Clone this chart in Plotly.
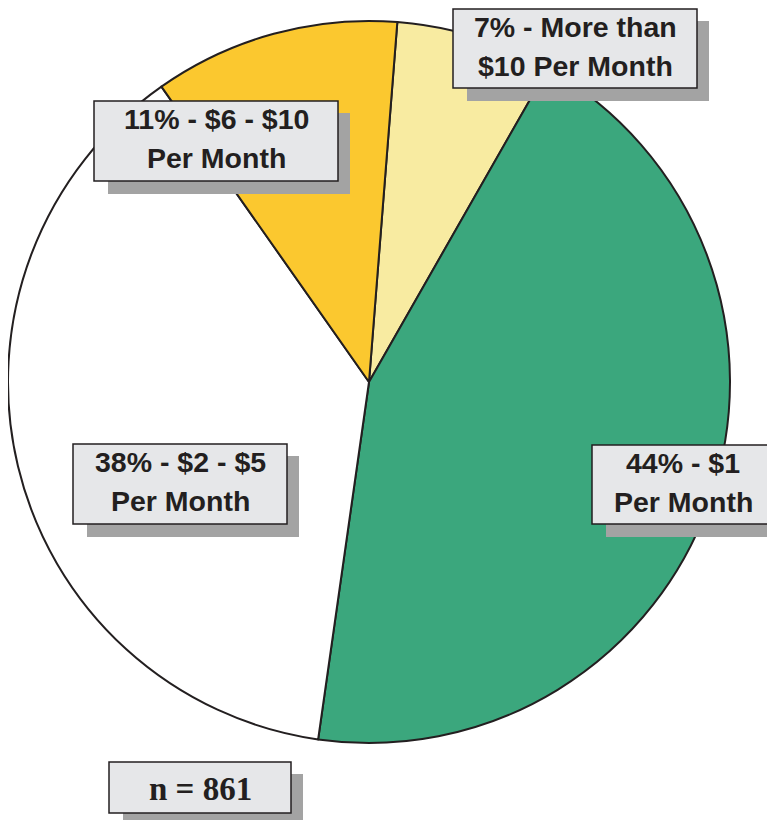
import plotly.graph_objects as go

# Data
labels = ["More than $10 Per Month", "$1 Per Month", "$2 - $5 Per Month", "$6 - $10 Per Month"]
values = [7, 44, 38, 11]
colors = ["#F8EBA1", "#3BA77D", "#FFFFFF", "#FBC82F"]
box_lines = [("7% - More than", "$10 Per Month"), ("44% - $1", "Per Month"),
             ("38% - $2 - $5", "Per Month"), ("11% - $6 - $10", "Per Month")]
n_text = "n = 861"

OFF = 8  # browser default body margin
W, H = 775 - OFF, 820 - OFF

def px(x):
    return (x - OFF) / W

def py(y):
    return 1 - (y - OFF) / H

fig = go.Figure()
fig.add_trace(go.Pie(
    labels=labels, values=values, sort=False, direction="clockwise", rotation=4.5,
    marker=dict(colors=colors, line=dict(color="#231F20", width=2)),
    textinfo="none", hoverinfo="label+percent", showlegend=False,
    domain=dict(x=[px(8), px(730)], y=[py(743), py(21)]),
))

# box geometry (reference pixels): x0, y0, x1, y1
boxes = [
    (453, 9, 697, 88),
    (592, 445, 774, 524),
    (73, 444, 287, 524),
    (94, 101, 338, 181),
]
n_box = (109, 762, 291, 813)

shapes = []
annotations = []
label_font = dict(family="Liberation Sans, Arial", size=28.5, color="#231F20")

def add_frame(b):
    x0, y0, x1, y1 = b
    shapes.append(dict(type="rect", xref="paper", yref="paper",
                       x0=px(x0 + 14), x1=px(x1 + 12), y0=py(y1 + 13), y1=py(y0 + 12),
                       fillcolor="#A3A3A3", line=dict(width=0), layer="above"))
    shapes.append(dict(type="rect", xref="paper", yref="paper",
                       x0=px(x0), x1=px(x1), y0=py(y1), y1=py(y0),
                       fillcolor="#E6E7E9", line=dict(color="#231F20", width=1.5), layer="above"))

def add_text(x, y, text, font):
    annotations.append(dict(xref="paper", yref="paper", x=px(x), y=py(y),
                            text="<b>" + text + "</b>", showarrow=False, xanchor="center", yanchor="middle",
                            font=font, align="center"))

for b, (l1, l2) in zip(boxes, box_lines):
    add_frame(b)
    xc = (b[0] + b[2]) / 2
    add_text(xc, b[1] + 18, l1, label_font)
    add_text(xc, b[1] + 57, l2, label_font)

add_frame(n_box)
add_text((n_box[0] + n_box[2]) / 2, (n_box[1] + n_box[3]) / 2 + 1, n_text,
         dict(family="Liberation Serif, Times New Roman, serif", size=33, color="#231F20"))

fig.update_layout(
    width=W, height=H, margin=dict(l=0, r=0, t=0, b=0),
    paper_bgcolor="white", plot_bgcolor="white",
    shapes=shapes, annotations=annotations,
)

fig.write_html("out.html")
